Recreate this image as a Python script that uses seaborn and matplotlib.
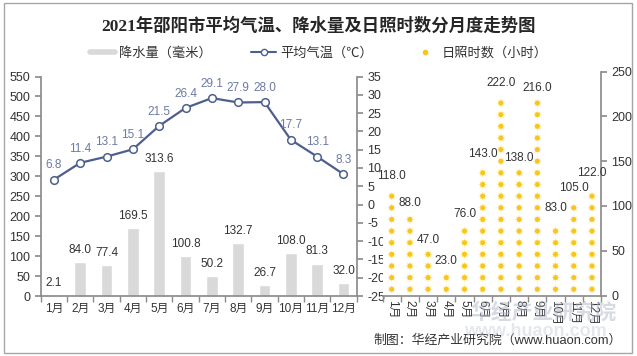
import numpy as np
import pandas as pd
import matplotlib
matplotlib.use('Agg')
import matplotlib.pyplot as plt
import seaborn as sns
from matplotlib.patches import Rectangle
from matplotlib.lines import Line2D

months = ['1月', '2月', '3月', '4月', '5月', '6月', '7月', '8月', '9月', '10月', '11月', '12月']
rain = [2.1, 84.0, 77.4, 169.5, 313.6, 100.8, 50.2, 132.7, 26.7, 108.0, 81.3, 32.0]
temp = [6.8, 11.4, 13.1, 15.1, 21.5, 26.4, 29.1, 27.9, 28.0, 17.7, 13.1, 8.3]
sun = [118.0, 88.0, 47.0, 23.0, 76.0, 143.0, 222.0, 138.0, 216.0, 83.0, 105.0, 122.0]

sns.set_theme(style='white')
plt.rcParams['font.family'] = ['Liberation Sans', 'Noto Sans CJK SC']
plt.rcParams['axes.unicode_minus'] = False

grey = '#8C8C8C'
txt = '#333333'
line_c = '#4E5F8E'
lab_c = '#6C7AA3'
sun_c = '#F7C51E'

fig = plt.figure(figsize=(6.37, 3.56), dpi=100)

# 左图：降水量柱 + 气温折线
ax1 = fig.add_axes([0.0639, 0.1685, 0.496, 0.6166])
df_rain = pd.DataFrame({'月份': months, '降水量': rain})
sns.barplot(data=df_rain, x='月份', y='降水量', color='#D9D9D9', saturation=1,
            width=0.45, ax=ax1)
for i, v in enumerate(rain):
    ax1.annotate(f'{v:.1f}', (i, v), xytext=(0, 4.5), textcoords='offset points',
                 ha='center', va='bottom', fontsize=8.5, color=txt)
ax1.set_ylim(0, 550)
ax1.set_yticks(np.arange(0, 551, 50))
ax1.set_xlim(-0.5, 11.5)
ax1.set_xlabel('')
ax1.set_ylabel('')
ax1.set_xticks(np.arange(-0.5, 12, 1), minor=True)
ax1.tick_params(axis='x', which='major', length=0, labelsize=8.5, labelcolor=txt, pad=5)
ax1.tick_params(axis='x', which='minor', length=4, color=grey, direction='out', bottom=True)
ax1.tick_params(axis='y', length=4, color=grey, direction='out', left=True, labelsize=9, labelcolor=txt)
for s in ['top', 'right']:
    ax1.spines[s].set_visible(False)
for s in ['left', 'bottom']:
    ax1.spines[s].set_color(grey)

ax2 = ax1.twinx()
sns.lineplot(x=np.arange(12), y=temp, ax=ax2, color=line_c, lw=1.6, marker='o',
             markersize=5.5, markerfacecolor='white', markeredgecolor=line_c,
             markeredgewidth=1.1)
for i, v in enumerate(temp):
    ax2.annotate(f'{v:.1f}', (i, v), xytext=(0, 6), textcoords='offset points',
                 ha='center', va='bottom', fontsize=8.5, color=lab_c)
ax2.set_ylim(-25, 35)
ax2.set_yticks(np.arange(-25, 36, 5))
ax2.set_xlim(-0.5, 11.5)
ax2.tick_params(axis='y', length=4, color=grey, direction='out', right=True, labelsize=9, labelcolor=txt)
for s in ['top', 'left', 'bottom']:
    ax2.spines[s].set_visible(False)
ax2.spines['right'].set_color(grey)

# 右图：日照时数（太阳图标堆叠）
ax3 = fig.add_axes([0.6006, 0.1699, 0.343, 0.6287])
rows = [(i, h) for i, v in enumerate(sun) for h in np.arange(7, v, 13)]
df_sun = pd.DataFrame(rows, columns=['idx', 'h'])
sns.scatterplot(data=df_sun, x='idx', y='h', marker=(8, 1, 0), s=42, color='#FFE680',
                edgecolor='none', ax=ax3, legend=False)
sns.scatterplot(data=df_sun, x='idx', y='h', marker='o', s=12, color=sun_c,
                edgecolor='none', ax=ax3, legend=False)
for i, v in enumerate(sun):
    ax3.annotate(f'{v:.1f}', (i, v), xytext=(0, 5.5), textcoords='offset points',
                 ha='center', va='bottom', fontsize=8.5, color=txt)
ax3.set_ylim(0, 250)
ax3.set_yticks(np.arange(0, 251, 50))
ax3.set_xlim(-0.5, 11.5)
ax3.set_xticks(range(12))
ax3.set_xticklabels(months, rotation=270)
ax3.set_xlabel('')
ax3.set_ylabel('')
ax3.yaxis.tick_right()
ax3.set_xticks(np.arange(-0.5, 12, 1), minor=True)
ax3.tick_params(axis='x', which='major', length=0, labelsize=8.5, labelcolor=txt, pad=3)
ax3.tick_params(axis='x', which='minor', length=4, color=grey, direction='out', bottom=True)
ax3.tick_params(axis='y', length=4, color=grey, direction='out', right=True, labelsize=9, labelcolor=txt)
for s in ['top', 'left']:
    ax3.spines[s].set_visible(False)
for s in ['right', 'bottom']:
    ax3.spines[s].set_color(grey)

# 标题、图例、来源
fig.text(0.5, 1 - 26 / 356, '2021年邵阳市平均气温、降水量及日照时数分月度走势图',
         ha='center', va='center', fontsize=12.5, fontweight='bold',
         family=['Liberation Serif', 'Noto Sans CJK SC'], color='#262626')

handles = [
    Line2D([], [], color='#D9D9D9', lw=4),
    Line2D([], [], color=line_c, lw=1.5, marker='o', markersize=4.5,
           markerfacecolor='white', markeredgecolor=line_c),
    Line2D([], [], ls='none', marker='o', markersize=3, color=sun_c),
]
labels = ['降水量（毫米）', '平均气温（℃）', '日照时数（小时）']
fig.legend(handles, labels, loc='center', bbox_to_anchor=(0.5, 1 - 53 / 356), ncol=3,
           frameon=False, fontsize=9.5, handlelength=1.9, handletextpad=0.3,
           columnspacing=3.0, labelcolor=txt)

fig.text(622 / 637, 1 - 340 / 356, '制图：华经产业研究院（www.huaon.com）',
         ha='right', va='center', fontsize=9.3, color=txt)

# 水印
fig.text(543 / 637, 1 - 312 / 356, '华经产业研究院', ha='center', va='center',
         fontsize=15, fontweight='bold', color='#AEB6C8', alpha=0.5)
fig.text(535 / 637, 1 - 331 / 356, 'www.huaon.com', ha='center', va='center',
         fontsize=13, fontweight='bold', color='#BFC5D2', alpha=0.4)

fig.add_artist(Rectangle((4 / 637, 3 / 356), 628 / 637, 350 / 356,
                         transform=fig.transFigure, fill=False,
                         edgecolor='#A6A6A6', lw=1))

fig.savefig('out.png', dpi=100)
